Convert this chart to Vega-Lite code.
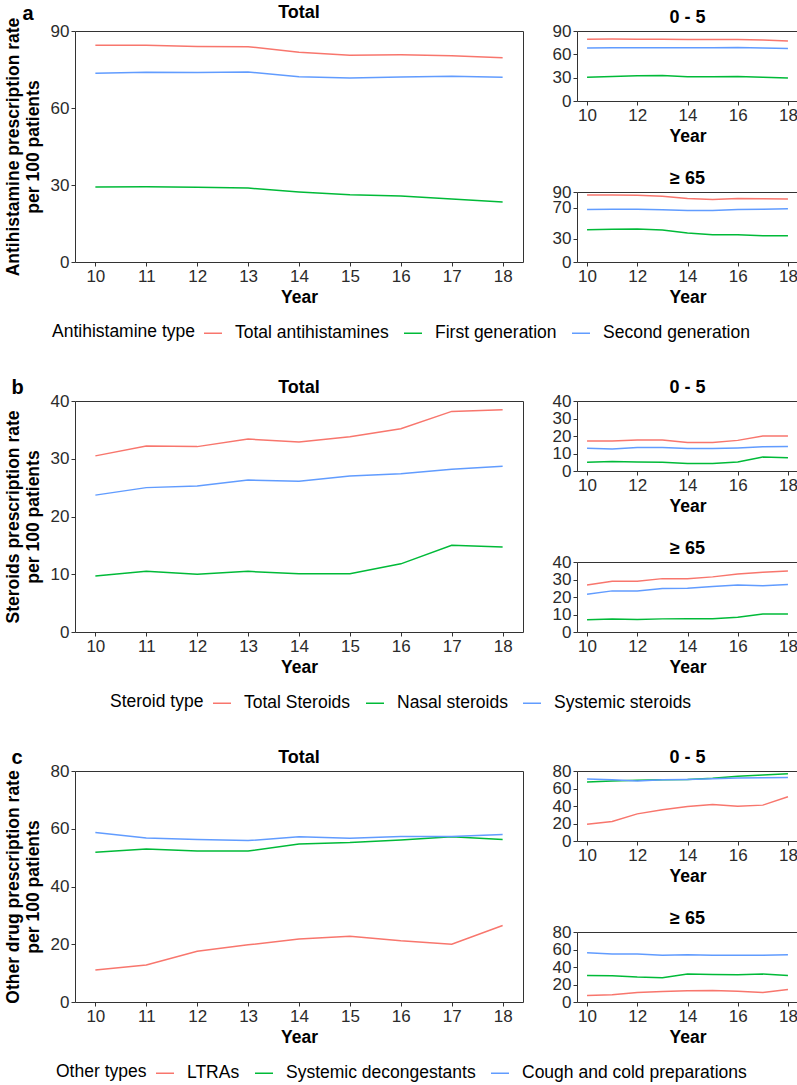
{
"$schema": "https://vega.github.io/schema/vega-lite/v6.json",
"padding": {"left": 3, "right": 0, "top": 3, "bottom": 0},
"config": {
  "font": "Liberation Sans",
  "view": {"stroke": "#333333", "strokeWidth": 1},
  "axis": {"grid": false, "domain": false, "labelFontSize": 17, "labelColor": "#2b2b2b", "titleFontSize": 17.5, "titleFontWeight": "bold", "titleColor": "#000000", "tickColor": "#333333", "tickSize": 4, "labelPadding": 2, "labelOverlap": false, "labelFlush": false},
  "axisY": {"titlePadding": 8, "titleLineHeight": 20},
  "axisX": {"titlePadding": 4},
  "title": {"fontSize": 18, "fontWeight": "bold", "color": "#000000", "offset": -5},
  "legend": {"orient": "bottom", "direction": "horizontal", "titleOrient": "left", "symbolType": "stroke", "symbolSize": 324, "symbolStrokeWidth": 1.5, "labelFontSize": 17.5, "titleFontSize": 17.5, "titleFontWeight": "normal", "labelColor": "#000000", "titleColor": "#000000", "labelOffset": 12, "labelLimit": 0, "titleLimit": 0, "columnPadding": 12, "titlePadding": 8, "offset": 17, "layout": {"bottom": {"anchor": "middle"}}},
  "line": {"strokeWidth": 1.5}
},
"datasets": {
  "a": [
    {"g":"Total","t":"Total antihistamines","yr":10,"v":84.4},{"g":"Total","t":"Total antihistamines","yr":11,"v":84.4},{"g":"Total","t":"Total antihistamines","yr":12,"v":84.0},{"g":"Total","t":"Total antihistamines","yr":13,"v":83.9},{"g":"Total","t":"Total antihistamines","yr":14,"v":81.7},{"g":"Total","t":"Total antihistamines","yr":15,"v":80.6},{"g":"Total","t":"Total antihistamines","yr":16,"v":80.7},{"g":"Total","t":"Total antihistamines","yr":17,"v":80.4},{"g":"Total","t":"Total antihistamines","yr":18,"v":79.6},
    {"g":"Total","t":"First generation","yr":10,"v":29.2},{"g":"Total","t":"First generation","yr":11,"v":29.3},{"g":"Total","t":"First generation","yr":12,"v":29.1},{"g":"Total","t":"First generation","yr":13,"v":28.8},{"g":"Total","t":"First generation","yr":14,"v":27.3},{"g":"Total","t":"First generation","yr":15,"v":26.2},{"g":"Total","t":"First generation","yr":16,"v":25.7},{"g":"Total","t":"First generation","yr":17,"v":24.5},{"g":"Total","t":"First generation","yr":18,"v":23.4},
    {"g":"Total","t":"Second generation","yr":10,"v":73.5},{"g":"Total","t":"Second generation","yr":11,"v":73.9},{"g":"Total","t":"Second generation","yr":12,"v":73.8},{"g":"Total","t":"Second generation","yr":13,"v":74.0},{"g":"Total","t":"Second generation","yr":14,"v":72.2},{"g":"Total","t":"Second generation","yr":15,"v":71.7},{"g":"Total","t":"Second generation","yr":16,"v":72.1},{"g":"Total","t":"Second generation","yr":17,"v":72.4},{"g":"Total","t":"Second generation","yr":18,"v":72.0},
    {"g":"0 - 5","t":"Total antihistamines","yr":10,"v":79.5},{"g":"0 - 5","t":"Total antihistamines","yr":11,"v":79.6},{"g":"0 - 5","t":"Total antihistamines","yr":12,"v":79.5},{"g":"0 - 5","t":"Total antihistamines","yr":13,"v":79.3},{"g":"0 - 5","t":"Total antihistamines","yr":14,"v":79.2},{"g":"0 - 5","t":"Total antihistamines","yr":15,"v":79.2},{"g":"0 - 5","t":"Total antihistamines","yr":16,"v":79.1},{"g":"0 - 5","t":"Total antihistamines","yr":17,"v":78.4},{"g":"0 - 5","t":"Total antihistamines","yr":18,"v":77.3},
    {"g":"0 - 5","t":"First generation","yr":10,"v":30.4},{"g":"0 - 5","t":"First generation","yr":11,"v":31.5},{"g":"0 - 5","t":"First generation","yr":12,"v":32.6},{"g":"0 - 5","t":"First generation","yr":13,"v":32.8},{"g":"0 - 5","t":"First generation","yr":14,"v":31.3},{"g":"0 - 5","t":"First generation","yr":15,"v":31.3},{"g":"0 - 5","t":"First generation","yr":16,"v":31.5},{"g":"0 - 5","t":"First generation","yr":17,"v":30.6},{"g":"0 - 5","t":"First generation","yr":18,"v":29.6},
    {"g":"0 - 5","t":"Second generation","yr":10,"v":68.2},{"g":"0 - 5","t":"Second generation","yr":11,"v":68.4},{"g":"0 - 5","t":"Second generation","yr":12,"v":68.6},{"g":"0 - 5","t":"Second generation","yr":13,"v":68.4},{"g":"0 - 5","t":"Second generation","yr":14,"v":68.6},{"g":"0 - 5","t":"Second generation","yr":15,"v":68.6},{"g":"0 - 5","t":"Second generation","yr":16,"v":68.8},{"g":"0 - 5","t":"Second generation","yr":17,"v":68.2},{"g":"0 - 5","t":"Second generation","yr":18,"v":67.4},
    {"g":"≥ 65","t":"Total antihistamines","yr":10,"v":86.1},{"g":"≥ 65","t":"Total antihistamines","yr":11,"v":86.0},{"g":"≥ 65","t":"Total antihistamines","yr":12,"v":85.7},{"g":"≥ 65","t":"Total antihistamines","yr":13,"v":84.4},{"g":"≥ 65","t":"Total antihistamines","yr":14,"v":81.8},{"g":"≥ 65","t":"Total antihistamines","yr":15,"v":80.5},{"g":"≥ 65","t":"Total antihistamines","yr":16,"v":81.8},{"g":"≥ 65","t":"Total antihistamines","yr":17,"v":81.3},{"g":"≥ 65","t":"Total antihistamines","yr":18,"v":80.9},
    {"g":"≥ 65","t":"First generation","yr":10,"v":41.5},{"g":"≥ 65","t":"First generation","yr":11,"v":42.0},{"g":"≥ 65","t":"First generation","yr":12,"v":42.4},{"g":"≥ 65","t":"First generation","yr":13,"v":41.1},{"g":"≥ 65","t":"First generation","yr":14,"v":37.2},{"g":"≥ 65","t":"First generation","yr":15,"v":35.0},{"g":"≥ 65","t":"First generation","yr":16,"v":35.0},{"g":"≥ 65","t":"First generation","yr":17,"v":33.8},{"g":"≥ 65","t":"First generation","yr":18,"v":33.8},
    {"g":"≥ 65","t":"Second generation","yr":10,"v":67.5},{"g":"≥ 65","t":"Second generation","yr":11,"v":67.7},{"g":"≥ 65","t":"Second generation","yr":12,"v":67.9},{"g":"≥ 65","t":"Second generation","yr":13,"v":67.3},{"g":"≥ 65","t":"Second generation","yr":14,"v":66.2},{"g":"≥ 65","t":"Second generation","yr":15,"v":66.2},{"g":"≥ 65","t":"Second generation","yr":16,"v":67.5},{"g":"≥ 65","t":"Second generation","yr":17,"v":67.9},{"g":"≥ 65","t":"Second generation","yr":18,"v":68.4}
  ],
  "b": [
    {"g":"Total","t":"Total Steroids","yr":10,"v":30.5},{"g":"Total","t":"Total Steroids","yr":11,"v":32.2},{"g":"Total","t":"Total Steroids","yr":12,"v":32.1},{"g":"Total","t":"Total Steroids","yr":13,"v":33.4},{"g":"Total","t":"Total Steroids","yr":14,"v":32.9},{"g":"Total","t":"Total Steroids","yr":15,"v":33.8},{"g":"Total","t":"Total Steroids","yr":16,"v":35.2},{"g":"Total","t":"Total Steroids","yr":17,"v":38.2},{"g":"Total","t":"Total Steroids","yr":18,"v":38.5},
    {"g":"Total","t":"Nasal steroids","yr":10,"v":9.7},{"g":"Total","t":"Nasal steroids","yr":11,"v":10.5},{"g":"Total","t":"Nasal steroids","yr":12,"v":10.0},{"g":"Total","t":"Nasal steroids","yr":13,"v":10.5},{"g":"Total","t":"Nasal steroids","yr":14,"v":10.1},{"g":"Total","t":"Nasal steroids","yr":15,"v":10.1},{"g":"Total","t":"Nasal steroids","yr":16,"v":11.8},{"g":"Total","t":"Nasal steroids","yr":17,"v":15.0},{"g":"Total","t":"Nasal steroids","yr":18,"v":14.7},
    {"g":"Total","t":"Systemic steroids","yr":10,"v":23.7},{"g":"Total","t":"Systemic steroids","yr":11,"v":25.0},{"g":"Total","t":"Systemic steroids","yr":12,"v":25.3},{"g":"Total","t":"Systemic steroids","yr":13,"v":26.3},{"g":"Total","t":"Systemic steroids","yr":14,"v":26.1},{"g":"Total","t":"Systemic steroids","yr":15,"v":27.0},{"g":"Total","t":"Systemic steroids","yr":16,"v":27.4},{"g":"Total","t":"Systemic steroids","yr":17,"v":28.2},{"g":"Total","t":"Systemic steroids","yr":18,"v":28.7},
    {"g":"0 - 5","t":"Total Steroids","yr":10,"v":17.1},{"g":"0 - 5","t":"Total Steroids","yr":11,"v":17.1},{"g":"0 - 5","t":"Total Steroids","yr":12,"v":17.7},{"g":"0 - 5","t":"Total Steroids","yr":13,"v":17.7},{"g":"0 - 5","t":"Total Steroids","yr":14,"v":16.3},{"g":"0 - 5","t":"Total Steroids","yr":15,"v":16.3},{"g":"0 - 5","t":"Total Steroids","yr":16,"v":17.5},{"g":"0 - 5","t":"Total Steroids","yr":17,"v":20.0},{"g":"0 - 5","t":"Total Steroids","yr":18,"v":20.0},
    {"g":"0 - 5","t":"Nasal steroids","yr":10,"v":5.0},{"g":"0 - 5","t":"Nasal steroids","yr":11,"v":5.4},{"g":"0 - 5","t":"Nasal steroids","yr":12,"v":5.2},{"g":"0 - 5","t":"Nasal steroids","yr":13,"v":5.0},{"g":"0 - 5","t":"Nasal steroids","yr":14,"v":4.3},{"g":"0 - 5","t":"Nasal steroids","yr":15,"v":4.3},{"g":"0 - 5","t":"Nasal steroids","yr":16,"v":5.2},{"g":"0 - 5","t":"Nasal steroids","yr":17,"v":8.0},{"g":"0 - 5","t":"Nasal steroids","yr":18,"v":7.6},
    {"g":"0 - 5","t":"Systemic steroids","yr":10,"v":13.0},{"g":"0 - 5","t":"Systemic steroids","yr":11,"v":12.6},{"g":"0 - 5","t":"Systemic steroids","yr":12,"v":13.4},{"g":"0 - 5","t":"Systemic steroids","yr":13,"v":13.4},{"g":"0 - 5","t":"Systemic steroids","yr":14,"v":12.8},{"g":"0 - 5","t":"Systemic steroids","yr":15,"v":12.8},{"g":"0 - 5","t":"Systemic steroids","yr":16,"v":13.2},{"g":"0 - 5","t":"Systemic steroids","yr":17,"v":13.8},{"g":"0 - 5","t":"Systemic steroids","yr":18,"v":14.0},
    {"g":"≥ 65","t":"Total Steroids","yr":10,"v":26.9},{"g":"≥ 65","t":"Total Steroids","yr":11,"v":29.0},{"g":"≥ 65","t":"Total Steroids","yr":12,"v":29.0},{"g":"≥ 65","t":"Total Steroids","yr":13,"v":30.5},{"g":"≥ 65","t":"Total Steroids","yr":14,"v":30.5},{"g":"≥ 65","t":"Total Steroids","yr":15,"v":31.5},{"g":"≥ 65","t":"Total Steroids","yr":16,"v":33.2},{"g":"≥ 65","t":"Total Steroids","yr":17,"v":34.1},{"g":"≥ 65","t":"Total Steroids","yr":18,"v":34.9},
    {"g":"≥ 65","t":"Nasal steroids","yr":10,"v":7.0},{"g":"≥ 65","t":"Nasal steroids","yr":11,"v":7.4},{"g":"≥ 65","t":"Nasal steroids","yr":12,"v":7.2},{"g":"≥ 65","t":"Nasal steroids","yr":13,"v":7.5},{"g":"≥ 65","t":"Nasal steroids","yr":14,"v":7.6},{"g":"≥ 65","t":"Nasal steroids","yr":15,"v":7.6},{"g":"≥ 65","t":"Nasal steroids","yr":16,"v":8.4},{"g":"≥ 65","t":"Nasal steroids","yr":17,"v":10.3},{"g":"≥ 65","t":"Nasal steroids","yr":18,"v":10.3},
    {"g":"≥ 65","t":"Systemic steroids","yr":10,"v":21.6},{"g":"≥ 65","t":"Systemic steroids","yr":11,"v":23.5},{"g":"≥ 65","t":"Systemic steroids","yr":12,"v":23.5},{"g":"≥ 65","t":"Systemic steroids","yr":13,"v":24.8},{"g":"≥ 65","t":"Systemic steroids","yr":14,"v":25.0},{"g":"≥ 65","t":"Systemic steroids","yr":15,"v":26.0},{"g":"≥ 65","t":"Systemic steroids","yr":16,"v":26.9},{"g":"≥ 65","t":"Systemic steroids","yr":17,"v":26.4},{"g":"≥ 65","t":"Systemic steroids","yr":18,"v":27.1}
  ],
  "c": [
    {"g":"Total","t":"LTRAs","yr":10,"v":11.1},{"g":"Total","t":"LTRAs","yr":11,"v":12.8},{"g":"Total","t":"LTRAs","yr":12,"v":17.6},{"g":"Total","t":"LTRAs","yr":13,"v":19.8},{"g":"Total","t":"LTRAs","yr":14,"v":21.8},{"g":"Total","t":"LTRAs","yr":15,"v":22.8},{"g":"Total","t":"LTRAs","yr":16,"v":21.2},{"g":"Total","t":"LTRAs","yr":17,"v":20.0},{"g":"Total","t":"LTRAs","yr":18,"v":26.5},
    {"g":"Total","t":"Systemic decongestants","yr":10,"v":51.9},{"g":"Total","t":"Systemic decongestants","yr":11,"v":53.0},{"g":"Total","t":"Systemic decongestants","yr":12,"v":52.3},{"g":"Total","t":"Systemic decongestants","yr":13,"v":52.3},{"g":"Total","t":"Systemic decongestants","yr":14,"v":54.7},{"g":"Total","t":"Systemic decongestants","yr":15,"v":55.2},{"g":"Total","t":"Systemic decongestants","yr":16,"v":56.1},{"g":"Total","t":"Systemic decongestants","yr":17,"v":57.2},{"g":"Total","t":"Systemic decongestants","yr":18,"v":56.3},
    {"g":"Total","t":"Cough and cold preparations","yr":10,"v":58.7},{"g":"Total","t":"Cough and cold preparations","yr":11,"v":56.8},{"g":"Total","t":"Cough and cold preparations","yr":12,"v":56.3},{"g":"Total","t":"Cough and cold preparations","yr":13,"v":55.9},{"g":"Total","t":"Cough and cold preparations","yr":14,"v":57.2},{"g":"Total","t":"Cough and cold preparations","yr":15,"v":56.7},{"g":"Total","t":"Cough and cold preparations","yr":16,"v":57.3},{"g":"Total","t":"Cough and cold preparations","yr":17,"v":57.3},{"g":"Total","t":"Cough and cold preparations","yr":18,"v":58.0},
    {"g":"0 - 5","t":"LTRAs","yr":10,"v":19.1},{"g":"0 - 5","t":"LTRAs","yr":11,"v":22.2},{"g":"0 - 5","t":"LTRAs","yr":12,"v":31.0},{"g":"0 - 5","t":"LTRAs","yr":13,"v":35.6},{"g":"0 - 5","t":"LTRAs","yr":14,"v":39.4},{"g":"0 - 5","t":"LTRAs","yr":15,"v":41.7},{"g":"0 - 5","t":"LTRAs","yr":16,"v":39.8},{"g":"0 - 5","t":"LTRAs","yr":17,"v":41.0},{"g":"0 - 5","t":"LTRAs","yr":18,"v":50.5},
    {"g":"0 - 5","t":"Systemic decongestants","yr":10,"v":67.4},{"g":"0 - 5","t":"Systemic decongestants","yr":11,"v":68.5},{"g":"0 - 5","t":"Systemic decongestants","yr":12,"v":69.3},{"g":"0 - 5","t":"Systemic decongestants","yr":13,"v":70.0},{"g":"0 - 5","t":"Systemic decongestants","yr":14,"v":70.4},{"g":"0 - 5","t":"Systemic decongestants","yr":15,"v":71.6},{"g":"0 - 5","t":"Systemic decongestants","yr":16,"v":73.9},{"g":"0 - 5","t":"Systemic decongestants","yr":17,"v":75.4},{"g":"0 - 5","t":"Systemic decongestants","yr":18,"v":76.9},
    {"g":"0 - 5","t":"Cough and cold preparations","yr":10,"v":70.8},{"g":"0 - 5","t":"Cough and cold preparations","yr":11,"v":70.0},{"g":"0 - 5","t":"Cough and cold preparations","yr":12,"v":68.5},{"g":"0 - 5","t":"Cough and cold preparations","yr":13,"v":70.0},{"g":"0 - 5","t":"Cough and cold preparations","yr":14,"v":70.4},{"g":"0 - 5","t":"Cough and cold preparations","yr":15,"v":71.2},{"g":"0 - 5","t":"Cough and cold preparations","yr":16,"v":72.0},{"g":"0 - 5","t":"Cough and cold preparations","yr":17,"v":72.3},{"g":"0 - 5","t":"Cough and cold preparations","yr":18,"v":72.7},
    {"g":"≥ 65","t":"LTRAs","yr":10,"v":7.5},{"g":"≥ 65","t":"LTRAs","yr":11,"v":8.3},{"g":"≥ 65","t":"LTRAs","yr":12,"v":10.9},{"g":"≥ 65","t":"LTRAs","yr":13,"v":12.0},{"g":"≥ 65","t":"LTRAs","yr":14,"v":12.8},{"g":"≥ 65","t":"LTRAs","yr":15,"v":13.1},{"g":"≥ 65","t":"LTRAs","yr":16,"v":12.4},{"g":"≥ 65","t":"LTRAs","yr":17,"v":10.9},{"g":"≥ 65","t":"LTRAs","yr":18,"v":14.3},
    {"g":"≥ 65","t":"Systemic decongestants","yr":10,"v":30.4},{"g":"≥ 65","t":"Systemic decongestants","yr":11,"v":30.0},{"g":"≥ 65","t":"Systemic decongestants","yr":12,"v":28.5},{"g":"≥ 65","t":"Systemic decongestants","yr":13,"v":27.8},{"g":"≥ 65","t":"Systemic decongestants","yr":14,"v":31.9},{"g":"≥ 65","t":"Systemic decongestants","yr":15,"v":31.5},{"g":"≥ 65","t":"Systemic decongestants","yr":16,"v":31.2},{"g":"≥ 65","t":"Systemic decongestants","yr":17,"v":31.9},{"g":"≥ 65","t":"Systemic decongestants","yr":18,"v":30.4},
    {"g":"≥ 65","t":"Cough and cold preparations","yr":10,"v":56.3},{"g":"≥ 65","t":"Cough and cold preparations","yr":11,"v":54.8},{"g":"≥ 65","t":"Cough and cold preparations","yr":12,"v":54.8},{"g":"≥ 65","t":"Cough and cold preparations","yr":13,"v":53.3},{"g":"≥ 65","t":"Cough and cold preparations","yr":14,"v":54.1},{"g":"≥ 65","t":"Cough and cold preparations","yr":15,"v":53.3},{"g":"≥ 65","t":"Cough and cold preparations","yr":16,"v":53.3},{"g":"≥ 65","t":"Cough and cold preparations","yr":17,"v":53.3},{"g":"≥ 65","t":"Cough and cold preparations","yr":18,"v":54.1}
  ]
},
"spacing": 35,
"resolve": {"scale": {"color": "independent"}},
"vconcat": [
  {
    "title": {"text": "a", "anchor": "start", "frame": "bounds", "fontSize": 20, "dy": 20, "dx": 19, "offset": 0},
    "spacing": 27,
    "hconcat": [
      {"width": 448, "height": 231, "title": "Total", "data": {"name": "a"}, "transform": [{"filter": "datum.g === 'Total'"}], "mark": "line",
       "encoding": {
         "x": {"field": "yr", "type": "quantitative", "scale": {"domain": [9.6, 18.4], "nice": false, "zero": false}, "axis": {"values": [10,11,12,13,14,15,16,17,18], "title": "Year"}},
         "y": {"field": "v", "type": "quantitative", "scale": {"domain": [0, 90], "nice": false}, "axis": {"values": [0,30,60,90], "title": ["Antihistamine prescription rate", "per 100 patients"]}},
         "color": {"field": "t", "type": "nominal", "scale": {"domain": ["Total antihistamines", "First generation", "Second generation"], "range": ["#F8766D", "#00BA38", "#619CFF"]}, "legend": {"title": "Antihistamine type"}}}},
      {"spacing": 24, "vconcat": [
        {"width": 221, "height": 70, "title": "0 - 5", "data": {"name": "a"}, "transform": [{"filter": "datum.g === '0 - 5'"}], "mark": "line",
         "encoding": {
           "x": {"field": "yr", "type": "quantitative", "scale": {"domain": [9.6, 18.4], "nice": false, "zero": false}, "axis": {"values": [10,12,14,16,18], "title": "Year"}},
           "y": {"field": "v", "type": "quantitative", "scale": {"domain": [0, 90], "nice": false}, "axis": {"values": [0,30,60,90], "title": null}},
           "color": {"field": "t", "type": "nominal", "scale": {"domain": ["Total antihistamines", "First generation", "Second generation"], "range": ["#F8766D", "#00BA38", "#619CFF"]}, "legend": {"title": "Antihistamine type"}}}},
        {"width": 221, "height": 70, "title": "≥ 65", "data": {"name": "a"}, "transform": [{"filter": "datum.g === '≥ 65'"}], "mark": "line",
         "encoding": {
           "x": {"field": "yr", "type": "quantitative", "scale": {"domain": [9.6, 18.4], "nice": false, "zero": false}, "axis": {"values": [10,12,14,16,18], "title": "Year"}},
           "y": {"field": "v", "type": "quantitative", "scale": {"domain": [0, 90], "nice": false}, "axis": {"values": [0,30,70,90], "title": null}},
           "color": {"field": "t", "type": "nominal", "scale": {"domain": ["Total antihistamines", "First generation", "Second generation"], "range": ["#F8766D", "#00BA38", "#619CFF"]}, "legend": {"title": "Antihistamine type"}}}}
      ]}
    ]
  },
  {
    "title": {"text": "b", "anchor": "start", "frame": "bounds", "fontSize": 20, "dy": 19, "dx": 8, "offset": 0},
    "spacing": 27,
    "hconcat": [
      {"width": 448, "height": 231, "title": "Total", "data": {"name": "b"}, "transform": [{"filter": "datum.g === 'Total'"}], "mark": "line",
       "encoding": {
         "x": {"field": "yr", "type": "quantitative", "scale": {"domain": [9.6, 18.4], "nice": false, "zero": false}, "axis": {"values": [10,11,12,13,14,15,16,17,18], "title": "Year"}},
         "y": {"field": "v", "type": "quantitative", "scale": {"domain": [0, 40], "nice": false}, "axis": {"values": [0,10,20,30,40], "title": ["Steroids prescription rate", "per 100 patients"]}},
         "color": {"field": "t", "type": "nominal", "scale": {"domain": ["Total Steroids", "Nasal steroids", "Systemic steroids"], "range": ["#F8766D", "#00BA38", "#619CFF"]}, "legend": {"title": "Steroid type"}}}},
      {"spacing": 24, "vconcat": [
        {"width": 221, "height": 70, "title": "0 - 5", "data": {"name": "b"}, "transform": [{"filter": "datum.g === '0 - 5'"}], "mark": "line",
         "encoding": {
           "x": {"field": "yr", "type": "quantitative", "scale": {"domain": [9.6, 18.4], "nice": false, "zero": false}, "axis": {"values": [10,12,14,16,18], "title": "Year"}},
           "y": {"field": "v", "type": "quantitative", "scale": {"domain": [0, 40], "nice": false}, "axis": {"values": [0,10,20,30,40], "title": null}},
           "color": {"field": "t", "type": "nominal", "scale": {"domain": ["Total Steroids", "Nasal steroids", "Systemic steroids"], "range": ["#F8766D", "#00BA38", "#619CFF"]}, "legend": {"title": "Steroid type"}}}},
        {"width": 221, "height": 70, "title": "≥ 65", "data": {"name": "b"}, "transform": [{"filter": "datum.g === '≥ 65'"}], "mark": "line",
         "encoding": {
           "x": {"field": "yr", "type": "quantitative", "scale": {"domain": [9.6, 18.4], "nice": false, "zero": false}, "axis": {"values": [10,12,14,16,18], "title": "Year"}},
           "y": {"field": "v", "type": "quantitative", "scale": {"domain": [0, 40], "nice": false}, "axis": {"values": [0,10,20,30,40], "title": null}},
           "color": {"field": "t", "type": "nominal", "scale": {"domain": ["Total Steroids", "Nasal steroids", "Systemic steroids"], "range": ["#F8766D", "#00BA38", "#619CFF"]}, "legend": {"title": "Steroid type"}}}}
      ]}
    ]
  },
  {
    "title": {"text": "c", "anchor": "start", "frame": "bounds", "fontSize": 20, "dy": 19, "dx": 8, "offset": 0},
    "spacing": 27,
    "hconcat": [
      {"width": 448, "height": 231, "title": "Total", "data": {"name": "c"}, "transform": [{"filter": "datum.g === 'Total'"}], "mark": "line",
       "encoding": {
         "x": {"field": "yr", "type": "quantitative", "scale": {"domain": [9.6, 18.4], "nice": false, "zero": false}, "axis": {"values": [10,11,12,13,14,15,16,17,18], "title": "Year"}},
         "y": {"field": "v", "type": "quantitative", "scale": {"domain": [0, 80], "nice": false}, "axis": {"values": [0,20,40,60,80], "title": ["Other drug prescription rate", "per 100 patients"]}},
         "color": {"field": "t", "type": "nominal", "scale": {"domain": ["LTRAs", "Systemic decongestants", "Cough and cold preparations"], "range": ["#F8766D", "#00BA38", "#619CFF"]}, "legend": {"title": "Other types"}}}},
      {"spacing": 24, "vconcat": [
        {"width": 221, "height": 70, "title": "0 - 5", "data": {"name": "c"}, "transform": [{"filter": "datum.g === '0 - 5'"}], "mark": "line",
         "encoding": {
           "x": {"field": "yr", "type": "quantitative", "scale": {"domain": [9.6, 18.4], "nice": false, "zero": false}, "axis": {"values": [10,12,14,16,18], "title": "Year"}},
           "y": {"field": "v", "type": "quantitative", "scale": {"domain": [0, 80], "nice": false}, "axis": {"values": [0,20,40,60,80], "title": null}},
           "color": {"field": "t", "type": "nominal", "scale": {"domain": ["LTRAs", "Systemic decongestants", "Cough and cold preparations"], "range": ["#F8766D", "#00BA38", "#619CFF"]}, "legend": {"title": "Other types"}}}},
        {"width": 221, "height": 70, "title": "≥ 65", "data": {"name": "c"}, "transform": [{"filter": "datum.g === '≥ 65'"}], "mark": "line",
         "encoding": {
           "x": {"field": "yr", "type": "quantitative", "scale": {"domain": [9.6, 18.4], "nice": false, "zero": false}, "axis": {"values": [10,12,14,16,18], "title": "Year"}},
           "y": {"field": "v", "type": "quantitative", "scale": {"domain": [0, 80], "nice": false}, "axis": {"values": [0,20,40,60,80], "title": null}},
           "color": {"field": "t", "type": "nominal", "scale": {"domain": ["LTRAs", "Systemic decongestants", "Cough and cold preparations"], "range": ["#F8766D", "#00BA38", "#619CFF"]}, "legend": {"title": "Other types"}}}}
      ]}
    ]
  }
]
}
